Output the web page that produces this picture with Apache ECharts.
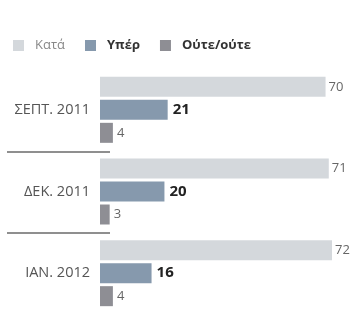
<!DOCTYPE html>
<html>
<head>
<meta charset="utf-8">
<script src="https://cdn.jsdelivr.net/npm/echarts@6/dist/echarts.min.js"></script>
<style>
  html, body { margin: 0; padding: 0; background: #fff; }
  #main { width: 358px; height: 314px; }
</style>
</head>
<body>
<div id="main"></div>
<script>
// δεδομένα
const categories = ['ΣΕΠΤ. 2011', 'ΔΕΚ. 2011', 'ΙΑΝ. 2012']
const kata = [70, 71, 72]
const yper = [21, 20, 16]
const oute = [4, 3, 4]

const font = '"Open Sans", "Noto Sans", sans-serif'
const chart = echarts.init(document.getElementById('main'))

const option = {
  animation: false,
  textStyle: { fontFamily: font },
  legend: {
    left: 8,
    top: 34,
    itemWidth: 11,
    itemHeight: 11,
    itemGap: 20,
    icon: 'rect',
    textStyle: { fontSize: 13, fontFamily: font, padding: [0, 0, 0, 6] },
    data: [
      { name: 'Κατά', textStyle: { color: '#888' } },
      { name: 'Υπέρ', textStyle: { color: '#333', fontWeight: 'bold' } },
      { name: 'Ούτε/ούτε', textStyle: { color: '#333', fontWeight: 'bold' } }
    ]
  },
  grid: { left: 100, top: 69, width: 232, height: 247 },
  xAxis: { type: 'value', min: 0, max: 72, show: false },
  yAxis: {
    type: 'category',
    inverse: true,
    data: categories,
    axisLine: { show: false },
    axisTick: { show: false },
    axisLabel: { color: '#555', fontSize: 14.5, margin: 10, fontFamily: font }
  },
  series: [
    {
      name: 'Κατά', type: 'bar', data: kata, barWidth: 20, barGap: '15%', barCategoryGap: '20%',
      itemStyle: { color: '#d4d8dc' },
      label: { show: true, position: 'right', distance: 3, color: '#666', fontSize: 13, fontFamily: font }
    },
    {
      name: 'Υπέρ', type: 'bar', data: yper, barWidth: 20,
      itemStyle: { color: '#8699ad' },
      label: { show: true, position: 'right', distance: 5, color: '#222', fontSize: 15, fontWeight: 'bold', fontFamily: font }
    },
    {
      name: 'Ούτε/ούτε', type: 'bar', data: oute, barWidth: 20,
      itemStyle: { color: '#8e8e94' },
      label: { show: true, position: 'right', distance: 4, color: '#666', fontSize: 13, fontFamily: font }
    }
  ]
}

chart.setOption(option)

// διαχωριστικές γραμμές ανάμεσα στις κατηγορίες
const lines = []
for (let i = 0; i < categories.length - 1; i++) {
  const y1 = chart.convertToPixel({ yAxisIndex: 0 }, categories[i])
  const y2 = chart.convertToPixel({ yAxisIndex: 0 }, categories[i + 1])
  const y = Math.round((y1 + y2) / 2) + 1
  lines.push({
    type: 'line',
    shape: { x1: 7, y1: y, x2: 110, y2: y },
    style: { stroke: '#8f8f8f', lineWidth: 2 }
  })
}
chart.setOption({ graphic: lines })
</script>
</body>
</html>
